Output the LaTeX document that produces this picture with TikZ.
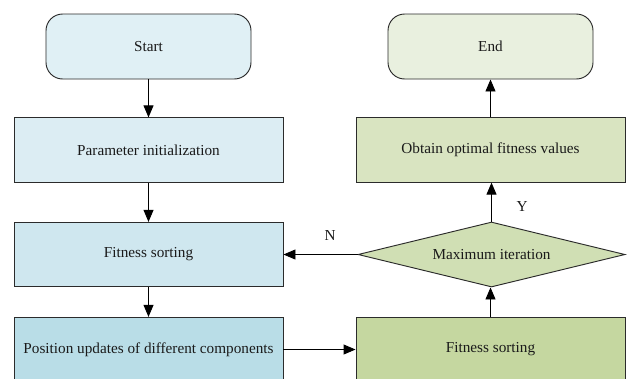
\documentclass[tikz,border=0pt]{standalone}
\usepackage{fontspec}
\setmainfont{Liberation Serif}
\usetikzlibrary{shapes.geometric,arrows.meta}
\definecolor{bA}{HTML}{E0F0F5}
\definecolor{bB}{HTML}{DCEDF3}
\definecolor{bC}{HTML}{CFE7EF}
\definecolor{bD}{HTML}{B9DDE7}
\definecolor{gA}{HTML}{E9F0DF}
\definecolor{gB}{HTML}{D9E4C1}
\definecolor{gC}{HTML}{D0DFB4}
\definecolor{gD}{HTML}{C5D7A0}
\definecolor{edge}{HTML}{2B2B2B}
\definecolor{txt}{HTML}{1A1A1A}
\tikzset{
  base/.style={draw=edge, line width=0.8pt, inner sep=0pt, text=txt, font=\fontsize{13}{15}\selectfont},
  term/.style={base, rounded corners=0.5cm, minimum width=6.15cm, minimum height=1.95cm},
  proc/.style={base, minimum width=8.07cm, minimum height=1.93cm},
  dec/.style={base, diamond, aspect=4, minimum width=8.01cm, minimum height=1.95cm},
  conn/.style={draw=black, line width=0.8pt, -{Triangle[length=3.6mm,width=3mm]}},
  lbl/.style={text=txt, font=\fontsize{13}{15}\selectfont}
}
\begin{document}
\begin{tikzpicture}[x=0.03cm,y=-0.03cm]
\useasboundingbox (0,0) rectangle (627,378);
\clip (0,0) rectangle (627,378);
\fill[white] (0,0) rectangle (627,378);
\node[term, fill=bA] (start) at (148.5,46.5) {Start};
\node[proc, fill=bB] (init) at (148.5,150) {Parameter initialization};
\node[proc, fill=bC] (fitL) at (148.5,254.5) {Fitness sorting};
\node[proc, fill=bD] (pos) at (148.5,349.5) {Position updates of different components};
\node[term, fill=gA] (end) at (490.5,46.5) {End};
\node[proc, fill=gB] (obt) at (490.5,150) {Obtain optimal fitness values};
\node[dec, fill=gC] (max) at (491.5,254.5) {Maximum iteration};
\node[proc, fill=gD] (fitR) at (490.5,349.5) {Fitness sorting};
\draw[conn] (start) -- (init);
\draw[conn] (init) -- (fitL);
\draw[conn] (fitL) -- (pos);
\draw[conn] (pos) -- (fitR);
\draw[conn] (fitR.north) -- (fitR.north |- max.south);
\draw[conn] (max.north) -- (obt.south -| max.north);
\draw[conn] (obt) -- (end);
\draw[conn] (max.west) -- (fitL.east |- max.west);
\node[lbl] (nlab) at (330,236) {N};
\node[lbl] (ylab) at (522,207) {Y};
\end{tikzpicture}
\end{document}
